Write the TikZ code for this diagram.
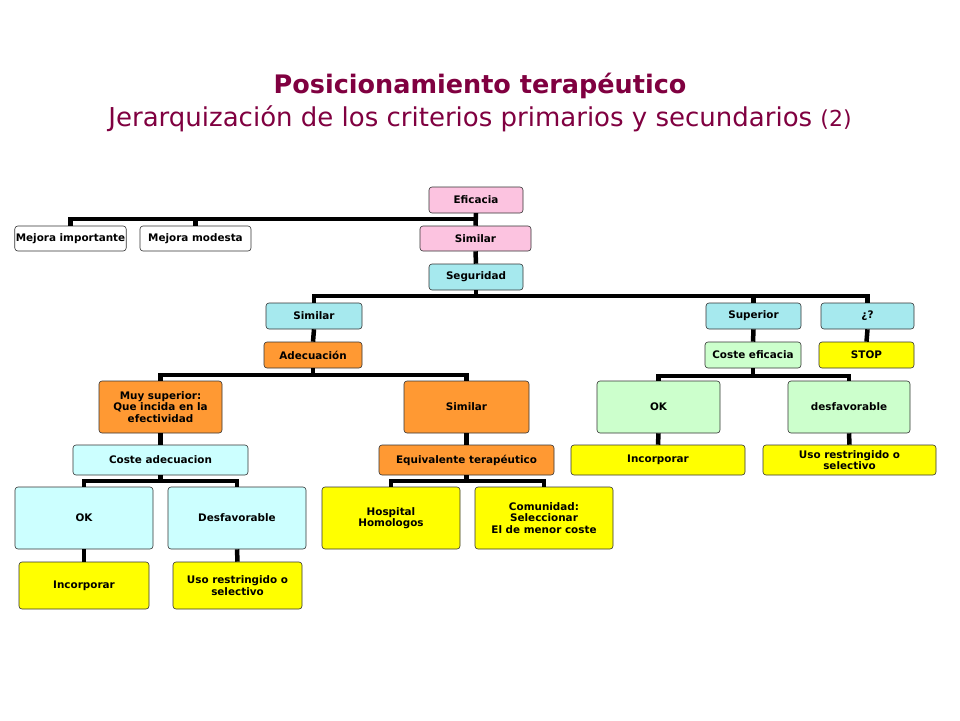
\documentclass[tikz,border=0pt]{standalone}
\usepackage{fontspec}
\setmainfont{DejaVu Sans}
\begin{document}
\begin{tikzpicture}[x=1pt,y=-1pt,
 box/.style={draw=black!80,rounded corners=3pt,line width=0.6pt,font=\fontsize{10.4}{11.5}\selectfont\bfseries,align=center,inner sep=1pt},
 conn/.style={line width=4.5pt,line join=miter}]
\definecolor{pink}{HTML}{FCC3E0}\definecolor{cya}{HTML}{A6E9EE}\definecolor{lcy}{HTML}{CCFFFF}
\definecolor{ora}{HTML}{FF9933}\definecolor{grn}{HTML}{CCFFCC}\definecolor{yel}{HTML}{FFFF00}
\definecolor{mar}{HTML}{800040}
\useasboundingbox (0,0) rectangle (960,720);
\fill[white] (0,0) rectangle (960,720);
\node[text=mar,font=\fontsize{25.5}{28}\selectfont\bfseries] (t1) at (480,86) {Posicionamiento terapéutico};
\node[text=mar,font=\fontsize{26}{28}\selectfont] (t2) at (480,119) {Jerarquización de los criterios primarios y secundarios {\fontsize{22}{24}\selectfont(2)}};
\newcommand\bx[7]{\node[box,fill=#6,minimum width=#3pt,minimum height=#4pt] (#1) at (#2,#5) {#7};}
\bx{efi}{476}{94}{26}{200}{pink}{Eficacia}
\bx{mi}{70.5}{111}{25}{238.5}{white}{Mejora importante}
\bx{mm}{195.5}{111}{25}{238.5}{white}{Mejora modesta}
\bx{sp}{475.5}{111}{25}{238.5}{pink}{Similar}
\bx{seg}{476}{94}{26}{277}{cya}{Seguridad}
\bx{sc}{314}{96}{26}{316}{cya}{Similar}
\bx{sup}{753.5}{95}{26}{316}{cya}{Superior}
\bx{q}{867.5}{93}{26}{316}{cya}{¿?}
\bx{ade}{313}{98}{26}{355}{ora}{Adecuación}
\bx{ce}{753}{96}{26}{355}{grn}{Coste eficacia}
\bx{stop}{866.5}{95}{26}{355}{yel}{STOP}
\bx{muy}{160.5}{123}{52}{407}{ora}{Muy superior:\\Que incida en la\\efectividad}
\bx{so}{466.5}{125}{52}{407}{ora}{Similar}
\bx{ok1}{658.5}{123}{52}{407}{grn}{OK}
\bx{des1}{849}{122}{52}{407}{grn}{desfavorable}
\bx{cad}{160.5}{175}{30}{460}{lcy}{Coste adecuacion}
\bx{eq}{466.5}{175}{30}{460}{ora}{Equivalente terapéutico}
\bx{inc1}{658}{174}{30}{460}{yel}{Incorporar}
\bx{uso1}{849.5}{173}{30}{460}{yel}{Uso restringido o\\selectivo}
\bx{ok2}{84}{138}{62}{518}{lcy}{OK}
\bx{des2}{237}{138}{62}{518}{lcy}{Desfavorable}
\bx{hos}{391}{138}{62}{518}{yel}{Hospital\\Homologos}
\bx{com}{544}{138}{62}{518}{yel}{Comunidad:\\Seleccionar\\El de menor coste}
\bx{inc2}{84}{130}{47}{585.5}{yel}{Incorporar}
\bx{uso2}{237.5}{129}{47}{585.5}{yel}{Uso restringido o\\selectivo}
\coordinate (b1) at (0,219);\coordinate (b2) at (0,296);\coordinate (b3) at (0,375);
\coordinate (b4) at (0,376);\coordinate (b5) at (0,481);
\foreach \p/\c/\b in {efi/mi/b1,efi/mm/b1,seg/sc/b2,seg/sup/b2,seg/q/b2,ade/muy/b3,ade/so/b3,ce/ok1/b4,ce/des1/b4,cad/ok2/b5,cad/des2/b5,eq/hos/b5,eq/com/b5}
 \draw[conn] (\p.south) -- (\p.south |- \b) -| (\c.north);
\foreach \p/\c in {efi/sp,sp/seg,sc/ade,sup/ce,q/stop,muy/cad,so/eq,ok1/inc1,des1/uso1,ok2/inc2,des2/uso2}
 \draw[conn] (\p.south) -- (\c.north);
\end{tikzpicture}
\end{document}
